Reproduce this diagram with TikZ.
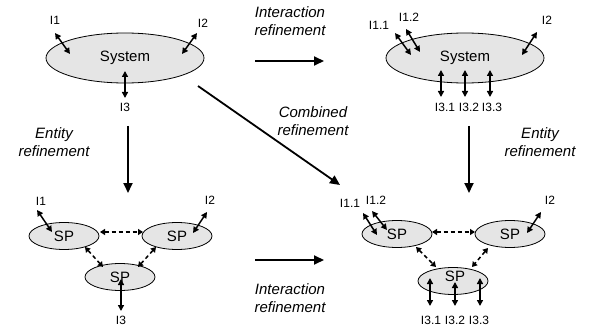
\documentclass[tikz,border=0pt]{standalone}
\usepackage{fontspec}
\setmainfont{Liberation Sans}
\usetikzlibrary{arrows.meta,shapes.geometric}
\begin{document}
\begin{tikzpicture}[x=1pt,y=-1pt,
  sysbox/.style={ellipse,draw=black,line width=0.8pt,fill=black!10,minimum width=158pt,minimum height=50pt,inner sep=0pt,font=\fontsize{15}{17}\selectfont},
  spbox/.style={ellipse,draw=black,line width=0.8pt,fill=black!10,minimum width=70pt,minimum height=27pt,inner sep=0pt,font=\fontsize{15}{17}\selectfont},
  lbl/.style={inner sep=0pt,font=\fontsize{12}{14}\selectfont},
  captxt/.style={inner sep=0pt,align=center,font=\itshape\fontsize{15}{18}\selectfont},
  iface/.style={line width=1.5pt,{Triangle[length=6pt,width=6pt]}-{Triangle[length=6pt,width=6pt]}},
  refine/.style={line width=1.8pt,-{Triangle[length=10pt,width=9pt]}},
  dasharr/.style={line width=1.5pt,dash pattern=on 4pt off 3pt,{Triangle[length=5pt,width=6pt]}-{Triangle[length=5pt,width=6pt]}}]
\useasboundingbox (0,0) rectangle (590,329);

% ---------- top left ----------
\node[sysbox] (sysA) at (125,58) {System};
\node[lbl] (a1) at (55,20) {I1};
\node[lbl] (a2) at (203,23) {I2};
\node[lbl] (a3) at (125,107) {I3};
\coordinate (a1o) at (55,33); \coordinate (a1i) at (70,54);
\coordinate (a2o) at (197,33); \coordinate (a2i) at (182,54);
\coordinate (a3i) at (125,71); \coordinate (a3o) at (125,98);
\draw[iface] (a1o) -- (a1i);
\draw[iface] (a2o) -- (a2i);
\draw[iface] (a3i) -- (a3o);

% ---------- top right ----------
\node[sysbox] (sysB) at (465,58) {System};
\node[lbl] (b11) at (379,25) {I1.1};
\node[lbl] (b12) at (409,17) {I1.2};
\node[lbl] (b2) at (547,20) {I2};
\node[lbl] (b31) at (445,107) {I3.1};
\node[lbl] (b32) at (469,107) {I3.2};
\node[lbl] (b33) at (492,107) {I3.3};
\coordinate (b11o) at (395,33); \coordinate (b11i) at (411,55);
\coordinate (b12o) at (406,29); \coordinate (b12i) at (420,52);
\coordinate (b2o) at (537,32); \coordinate (b2i) at (522,55);
\coordinate (b31i) at (441,70); \coordinate (b31o) at (441,97);
\coordinate (b32i) at (465,70); \coordinate (b32o) at (465,97);
\coordinate (b33i) at (490,70); \coordinate (b33o) at (490,97);
\draw[iface] (b11o) -- (b11i);
\draw[iface] (b12o) -- (b12i);
\draw[iface] (b2o) -- (b2i);
\draw[iface] (b31i) -- (b31o);
\draw[iface] (b32i) -- (b32o);
\draw[iface] (b33i) -- (b33o);

% ---------- bottom left ----------
\node[spbox] (spA) at (64,236) {SP};
\node[spbox] (spB) at (177,236) {SP};
\node[spbox] (spC) at (120,277) {SP};
\node[lbl] (c1) at (41,201) {I1};
\node[lbl] (c2) at (210,200) {I2};
\node[lbl] (c3) at (121,320) {I3};
\coordinate (c1o) at (37,210); \coordinate (c1i) at (52,232);
\coordinate (c2o) at (207,212); \coordinate (c2i) at (193,233);
\coordinate (c3i) at (121,279); \coordinate (c3o) at (121,311);
\draw[iface] (c1o) -- (c1i);
\draw[iface] (c2o) -- (c2i);
\draw[iface] (c3i) -- (c3o);
\coordinate (cab1) at (100,232); \coordinate (cab2) at (143,232);
\coordinate (cac1) at (85,247); \coordinate (cac2) at (103,267);
\coordinate (cbc1) at (156,247); \coordinate (cbc2) at (138,267);
\draw[dasharr] (cab1) -- (cab2);
\draw[dasharr] (cac1) -- (cac2);
\draw[dasharr] (cbc1) -- (cbc2);

% ---------- bottom right ----------
\node[spbox] (spD) at (397,234) {SP};
\node[spbox] (spE) at (510,234) {SP};
\node[spbox] (spF) at (453,281) {};
\node[font=\fontsize{15}{17}\selectfont,inner sep=0pt] (spFt) at (455,276) {SP};
\node[lbl] (d11) at (350,203) {I1.1};
\node[lbl] (d12) at (376,200) {I1.2};
\node[lbl] (d2) at (550,200) {I2};
\node[lbl] (d31) at (431,320) {I3.1};
\node[lbl] (d32) at (455,320) {I3.2};
\node[lbl] (d33) at (479,320) {I3.3};
\coordinate (d11o) at (363,213); \coordinate (d11i) at (377,235);
\coordinate (d12o) at (372,211); \coordinate (d12i) at (387,230);
\coordinate (d2o) at (541,212); \coordinate (d2i) at (527,233);
\draw[iface] (d11o) -- (d11i);
\draw[iface] (d12o) -- (d12i);
\draw[iface] (d2o) -- (d2i);
\coordinate (d31i) at (430,278); \coordinate (d31o) at (430,306);
\coordinate (d32i) at (455,282); \coordinate (d32o) at (455,306);
\coordinate (d33i) at (480,278); \coordinate (d33o) at (480,306);
\draw[iface] (d31i) -- (d31o);
\draw[iface] (d32i) -- (d32o);
\draw[iface] (d33i) -- (d33o);
\coordinate (dde1) at (432,232); \coordinate (dde2) at (475,232);
\coordinate (ddf1) at (416,247); \coordinate (ddf2) at (436,267);
\coordinate (def1) at (488,248); \coordinate (def2) at (472,267);
\draw[dasharr] (dde1) -- (dde2);
\draw[dasharr] (ddf1) -- (ddf2);
\draw[dasharr] (def1) -- (def2);

% ---------- refinement arrows ----------
\coordinate (r1s) at (255,61); \coordinate (r1e) at (324,61);
\draw[refine] (r1s) -- (r1e);
\node[captxt] (cap1) at (290,21) {Interaction\\refinement};
\coordinate (r2s) at (255,260); \coordinate (r2e) at (324,260);
\draw[refine] (r2s) -- (r2e);
\node[captxt] (cap2) at (290,298) {Interaction\\refinement};
\coordinate (r3s) at (128,126); \coordinate (r3e) at (128,193);
\draw[refine] (r3s) -- (r3e);
\node[captxt] (cap3) at (54,142) {Entity\\refinement};
\coordinate (r4s) at (469,126); \coordinate (r4e) at (469,193);
\draw[refine] (r4s) -- (r4e);
\node[captxt] (cap4) at (540,142) {Entity\\refinement};
\coordinate (r5s) at (198,86); \coordinate (r5e) at (340,185);
\draw[refine] (r5s) -- (r5e);
\node[captxt] (cap5) at (313,121) {Combined\\refinement};
\end{tikzpicture}
\end{document}
